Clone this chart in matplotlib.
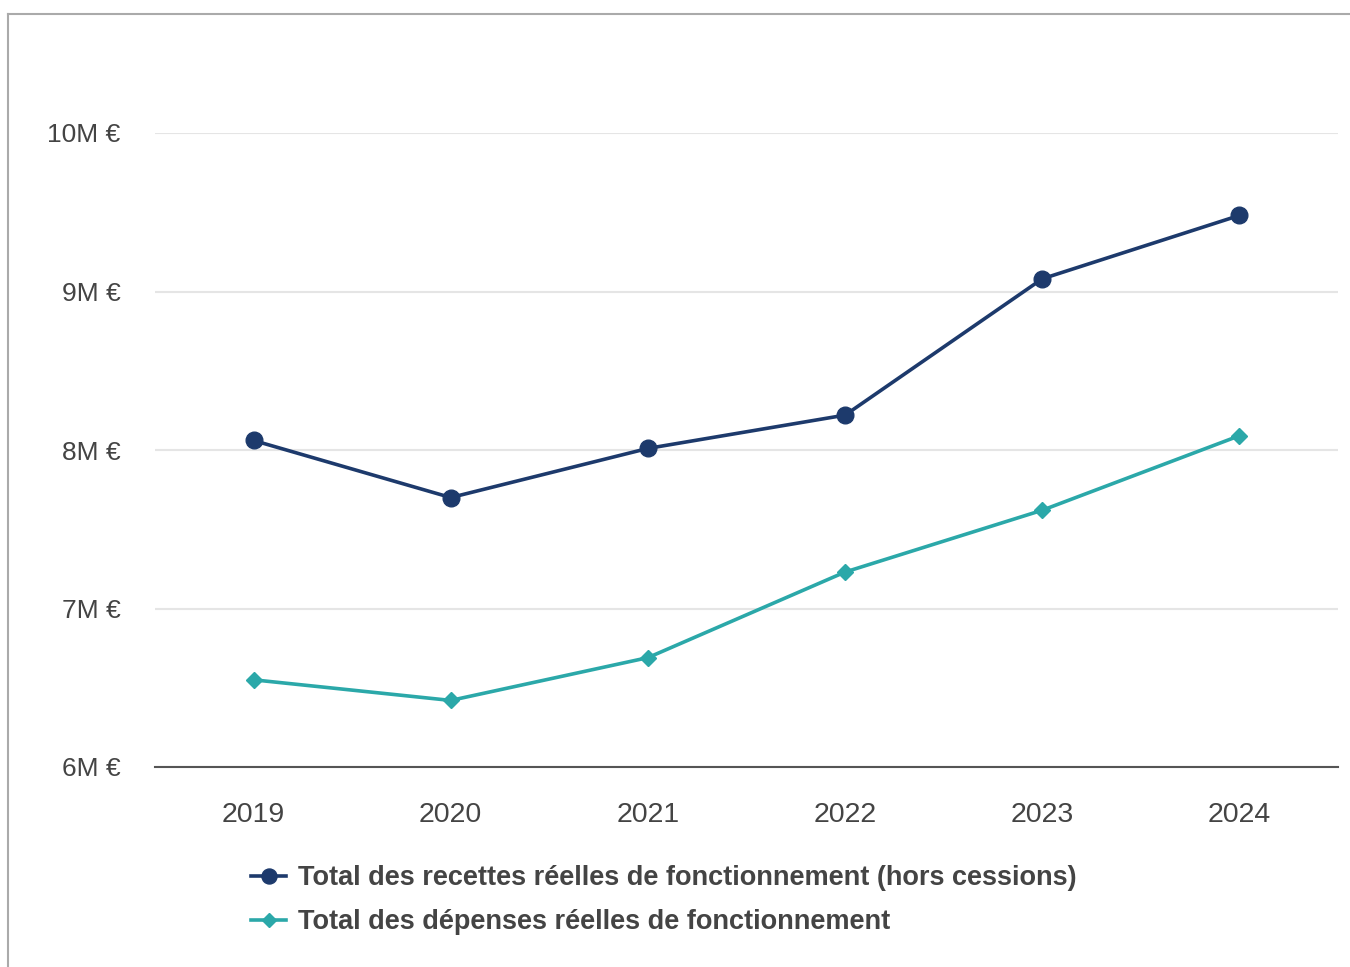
import matplotlib
matplotlib.use("Agg")
import matplotlib.pyplot as plt
from matplotlib.lines import Line2D

plt.rcParams['font.family'] = ['Liberation Sans', 'DejaVu Sans']

years = ["2019", "2020", "2021", "2022", "2023", "2024"]
recettes = [8.06, 7.70, 8.01, 8.22, 9.08, 9.48]   # millions €
depenses = [6.55, 6.42, 6.69, 7.23, 7.62, 8.09]   # millions €
y_ticks = [6, 7, 8, 9, 10]
y_labels = ["6M €", "7M €", "8M €", "9M €", "10M €"]
series_labels = [
    "Total des recettes réelles de fonctionnement (hors cessions)",
    "Total des dépenses réelles de fonctionnement",
]

navy = "#1d3a6c"
teal = "#2ba8a9"
text_col = "#444444"

W, H = 1350, 967
fig = plt.figure(figsize=(W / 100, H / 100), dpi=100)
ax = fig.add_axes([155 / W, 1 - 767 / H, (1338 - 155) / W, (767 - 133) / H])

x = list(range(len(years)))
ax.plot(x, recettes, color=navy, lw=2.6, marker="o", ms=12,
        label=series_labels[0], clip_on=False, zorder=4)
ax.plot(x, depenses, color=teal, lw=2.6, marker="D", ms=8,
        label=series_labels[1], clip_on=False, zorder=4)

ax.set_xlim(-0.5, len(years) - 0.5)
ax.set_ylim(6, 10)
ax.set_xticks(x)
ax.set_xticklabels(years)
ax.set_yticks(y_ticks)
ax.set_yticklabels(y_labels)
ax.tick_params(axis="both", length=0, labelcolor=text_col)
ax.tick_params(axis="y", labelsize=19, pad=25)
ax.tick_params(axis="x", labelsize=20.5, pad=25)

for s in ["top", "right", "left"]:
    ax.spines[s].set_visible(False)
ax.spines["bottom"].set_color("#555555")
ax.spines["bottom"].set_linewidth(1.5)
ax.spines["bottom"].set_zorder(3)
ax.grid(axis="y", color="#e5e5e5", lw=1.5, zorder=0)
ax.set_axisbelow(True)

leg = ax.legend(loc="upper left", bbox_to_anchor=(251 / W, 1 - 865 / H),
                bbox_transform=fig.transFigure, frameon=False,
                prop={"size": 19.5, "weight": "bold"}, handlelength=1.3,
                handletextpad=0.45, labelspacing=0.68, borderaxespad=0,
                borderpad=0, markerscale=0.9)
for t in leg.get_texts():
    t.set_color(text_col)

# frame edges around the figure
fig.add_artist(Line2D([8 / W, 1], [1 - 14 / H, 1 - 14 / H], color="#aaaaaa",
                      lw=1.5, transform=fig.transFigure))
fig.add_artist(Line2D([8 / W, 8 / W], [0, 1 - 14 / H], color="#aaaaaa",
                      lw=1.5, transform=fig.transFigure))

fig.savefig("out.png", dpi=100, facecolor="white")
